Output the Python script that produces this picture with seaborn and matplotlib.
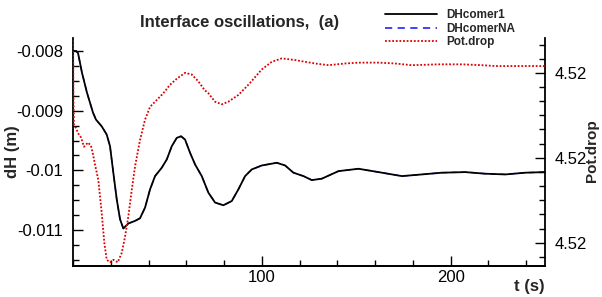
import matplotlib
matplotlib.use("Agg")
import matplotlib.pyplot as plt
import seaborn as sns
import pandas as pd
from matplotlib.ticker import MultipleLocator, AutoMinorLocator, FuncFormatter, FixedLocator
from matplotlib.lines import Line2D

# ---- data ----
t_dh = [0, 1.59, 2.65, 4.77, 7.42, 10.6, 12.19, 15.21, 17.86, 19.61, 21.36, 23.16,
        24.91, 26.66, 29.31, 32.86, 35.51, 38.16, 40.81, 43.46, 47.01, 49.66, 52.31,
        54.95, 57.23, 59.35, 62.0, 64.65, 68.2, 71.7, 75.25, 79.65, 84.1, 87.6, 91.15,
        94.7, 100.0, 107.95, 112.35, 116.75, 122.05, 126.5, 131.8, 140.6, 151.2, 161.8,
        174.2, 184.8, 195.4, 207.8, 218.4, 229.0, 239.5, 250]
dh_comer1 = [-0.008, -0.008, -0.008033, -0.008367, -0.0087, -0.009033, -0.00915,
             -0.009262, -0.0094, -0.009595, -0.010038, -0.010483, -0.010817, -0.010972,
             -0.010888, -0.010845, -0.0108, -0.010622, -0.010317, -0.010095, -0.009955,
             -0.009817, -0.009595, -0.009455, -0.009428, -0.009483, -0.009705, -0.0099,
             -0.010095, -0.010372, -0.010538, -0.010583, -0.010512, -0.010317, -0.010095,
             -0.009983, -0.009917, -0.009872, -0.009917, -0.010038, -0.010095, -0.010162,
             -0.010138, -0.010012, -0.009972, -0.010028, -0.010095, -0.010067, -0.010038,
             -0.010028, -0.010055, -0.010067, -0.010038, -0.010028]
dh_comerNA = [-0.008, -0.008, -0.008033, -0.008367, -0.0087, -0.009033, -0.00915,
              -0.009262, -0.0094, -0.009595, -0.010038, -0.010483, -0.010817, -0.010972,
              -0.010888, -0.010845, -0.0108, -0.010622, -0.010317, -0.010095, -0.009955,
              -0.009817, -0.009595, -0.009455, -0.009428, -0.009483, -0.009705, -0.0099,
              -0.010095, -0.010372, -0.010538, -0.010583, -0.010512, -0.010317, -0.010095,
              -0.009983, -0.009917, -0.009872, -0.009917, -0.010038, -0.010095, -0.010162,
              -0.010138, -0.010012, -0.009972, -0.010028, -0.010095, -0.010067, -0.010038,
              -0.010028, -0.010055, -0.010067, -0.010038, -0.010028]

t_pot = [0, 0.26, 0.53, 1.59, 2.65, 4.24, 5.83, 7.95, 9.54, 10.6, 11.66, 13.41, 15.21,
         16.59, 17.86, 19.61, 21.36, 23.69, 25.81, 27.56, 29.31, 31.11, 32.86, 35.51,
         38.16, 40.81, 44.36, 47.85, 51.4, 54.95, 59.35, 62.9, 66.4, 69.58, 71.7, 75.25,
         78.8, 82.3, 87.6, 92.9, 100.0, 105.3, 110.6, 117.65, 122.95, 128.25, 135.3,
         144.1, 151.2, 161.8, 170.6, 179.5, 193.6, 206, 216.6, 223.6, 250]
pot_drop = [4.520251, 4.520168, 4.520139, 4.520135, 4.520129, 4.520124, 4.520113,
            4.520118, 4.520114, 4.520104, 4.520092, 4.520074, 4.520035, 4.520000,
            4.519980, 4.519977, 4.519980, 4.519977, 4.519988, 4.520007, 4.520031,
            4.520062, 4.520090, 4.520121, 4.520145, 4.520160, 4.520168, 4.520176,
            4.520186, 4.520193, 4.520200, 4.520198, 4.520190, 4.520180, 4.520176,
            4.520166, 4.520163, 4.520166, 4.520174, 4.520186, 4.520204, 4.520213,
            4.520217, 4.520215, 4.520213, 4.520211, 4.520209, 4.520211, 4.520212,
            4.520212, 4.520211, 4.520209, 4.520210, 4.520210, 4.520209, 4.520208,
            4.520208]

x_major = [100, 200]
series_names = ["DHcomer1", "DHcomerNA", "Pot.drop"]

# ---- style ----
sns.set_style("ticks")
plt.rcParams["font.family"] = ["Liberation Sans", "DejaVu Sans"]
plt.rcParams["axes.unicode_minus"] = False

fig = plt.figure(figsize=(6.02, 2.97), dpi=100)
ax = fig.add_axes([73 / 602, 1 - 265.7 / 297, (545 - 73) / 602, (265.7 - 38) / 297])
ax2 = ax.twinx()

df_dh = pd.DataFrame({"t": t_dh, "a": dh_comer1, "b": dh_comerNA})
df_pot = pd.DataFrame({"t": t_pot, "p": pot_drop})

sns.lineplot(data=df_dh, x="t", y="b", ax=ax, color="#3333ff", lw=1.0,
             linestyle=(0, (4, 3)), zorder=2)
sns.lineplot(data=df_dh, x="t", y="a", ax=ax, color="black", lw=1.3, zorder=3)
sns.lineplot(data=df_pot, x="t", y="p", ax=ax2, color="#dd0000", lw=1.3,
             linestyle=(0, (1, 1)), zorder=3)

ax.set_xlim(0, 250)
ax.set_ylim(-0.011595, -0.007783)
ax2.set_ylim(4.519973, 4.520241)

ax.xaxis.set_major_locator(FixedLocator(x_major))
ax.xaxis.set_minor_locator(MultipleLocator(20))
ax.yaxis.set_major_locator(MultipleLocator(0.001))
ax.yaxis.set_minor_locator(AutoMinorLocator(4))
ax.yaxis.set_major_formatter(FuncFormatter(lambda v, p: f"{round(v, 6):g}"))
ax2.yaxis.set_major_locator(MultipleLocator(0.0001))
ax2.yaxis.set_minor_locator(AutoMinorLocator(6))
ax2.yaxis.set_major_formatter(FuncFormatter(lambda v, p: f"{v:.2f}"))

for a in (ax, ax2):
    a.tick_params(which="major", direction="in", length=7, width=1, labelsize=12,
                  color="black", labelcolor="black")
    a.tick_params(which="minor", direction="in", length=4, width=1, color="black")
    a.spines["top"].set_visible(False)
    for s in a.spines.values():
        s.set_color("black")
        s.set_linewidth(1.3)
ax.tick_params(axis="y", pad=7)
ax.tick_params(axis="x", pad=3)
ax2.tick_params(axis="y", pad=7)
ax.spines["right"].set_visible(False)
ax2.spines["left"].set_visible(False)

ax.set_xlabel("")
ax.set_ylabel("")
ax2.set_ylabel("")
fig.text(545 / 602, 1 - 287 / 297, "t (s)", ha="right", va="center",
         fontsize=12, fontweight="bold")
fig.text(12 / 602, 1 - 152 / 297, "dH (m)", rotation=90, ha="center", va="center",
         fontsize=12, fontweight="bold")
fig.text(592 / 602, 1 - 151 / 297, "Pot.drop", rotation=90, ha="center", va="center",
         fontsize=11, fontweight="bold")
fig.text(240 / 602, 1 - 22 / 297, "Interface oscillations,  (a)", ha="center",
         va="center", fontsize=12, fontweight="bold")

handles = [Line2D([], [], color="black", lw=1.3),
           Line2D([], [], color="#3333ff", lw=1.3, linestyle=(0, (4, 3))),
           Line2D([], [], color="#dd0000", lw=1.3, linestyle=(0, (1, 1)))]
fig.legend(handles, series_names, loc="upper left",
           bbox_to_anchor=(385 / 602, 1 - 9.5 / 297), frameon=False,
           prop={"weight": "bold", "size": 8.5}, borderpad=0, borderaxespad=0,
           labelspacing=0.1, handlelength=4.4, handletextpad=0.8)

fig.savefig("out.png", dpi=100)
